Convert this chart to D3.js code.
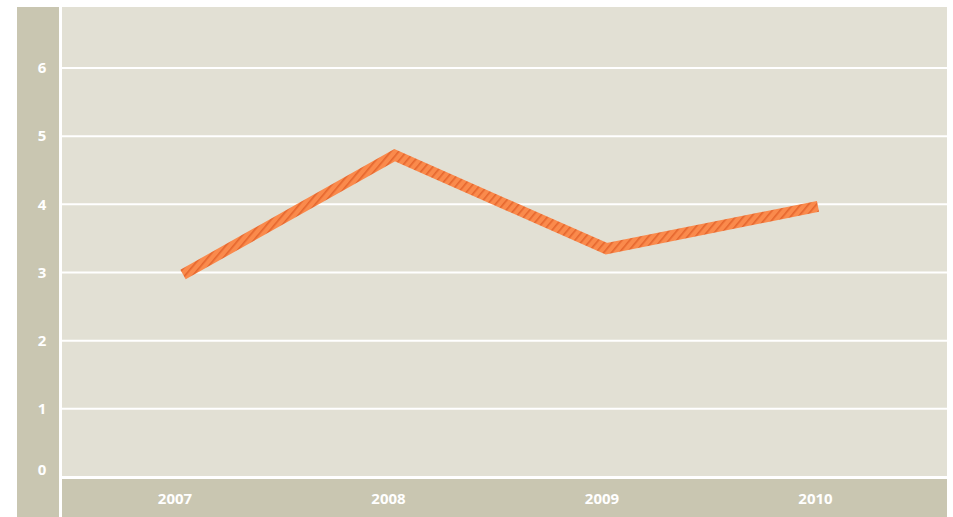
<!DOCTYPE html>
<html>
<head>
<meta charset="utf-8">
<script src="https://cdn.jsdelivr.net/npm/d3@7"></script>
<style>
  html, body { margin: 0; padding: 0; background: #fff; }
</style>
</head>
<body>
<div id="chart"></div>
<script>
// Chart data
const years = ["2007", "2008", "2009", "2010"];
const values = [2.97, 4.72, 3.35, 3.97];
const yTicks = [0, 1, 2, 3, 4, 5, 6];

const width = 953;
const height = 517;

// Layout
const band = { left: 17, right: 59 };   // left label band
const plot = { left: 62, right: 947, top: 7, bottom: 476 };
const xBandTop = 479;                    // bottom label band

const svg = d3
  .select("#chart")
  .append("svg")
  .attr("width", width)
  .attr("height", height)
  .attr("viewBox", [0, 0, width, height]);

// Hatch pattern for the line
const defs = svg.append("defs");
const pat = defs
  .append("pattern")
  .attr("id", "hatch")
  .attr("patternUnits", "userSpaceOnUse")
  .attr("width", 6)
  .attr("height", 6)
  .attr("patternTransform", "rotate(40)");
pat.append("rect").attr("width", 6).attr("height", 6).attr("fill", "#fa8a4c");
pat.append("rect").attr("width", 1.6).attr("height", 6).attr("fill", "#e5662d");

// Scales
const y = d3.scaleLinear().domain([0, 6]).range([477, 68]);
const xLine = d3.scalePoint().domain(years).range([183, 818]);
const xLabel = d3.scalePoint().domain(years).range([175, 815.5]);

// Backgrounds
svg.append("rect")
  .attr("x", band.left).attr("y", plot.top)
  .attr("width", band.right - band.left).attr("height", height - plot.top)
  .attr("fill", "#c9c6b1");

svg.append("rect")
  .attr("x", plot.left).attr("y", plot.top)
  .attr("width", plot.right - plot.left).attr("height", plot.bottom - plot.top)
  .attr("fill", "#e2e0d4");

svg.append("rect")
  .attr("x", plot.left).attr("y", xBandTop)
  .attr("width", plot.right - plot.left).attr("height", height - xBandTop)
  .attr("fill", "#c9c6b1");

// Gridlines
svg.append("g")
  .selectAll("line")
  .data(yTicks.filter((d) => d > 0))
  .join("line")
  .attr("x1", plot.left)
  .attr("x2", plot.right)
  .attr("y1", (d) => y(d))
  .attr("y2", (d) => y(d))
  .attr("stroke", "#fff")
  .attr("stroke-width", 2);

// Y tick labels
svg.append("g")
  .selectAll("text")
  .data(yTicks)
  .join("text")
  .attr("x", 42)
  .attr("y", (d) => Math.min(y(d), 470))
  .attr("dy", "0.35em")
  .attr("text-anchor", "middle")
  .attr("fill", "#fff")
  .attr("font-family", "Open Sans, sans-serif")
  .attr("font-weight", "bold")
  .attr("font-size", "15px")
  .text((d) => d);

// X labels
svg.append("g")
  .selectAll("text")
  .data(years)
  .join("text")
  .attr("x", (d) => xLabel(d))
  .attr("y", 499)
  .attr("dy", "0.35em")
  .attr("text-anchor", "middle")
  .attr("fill", "#fff")
  .attr("font-family", "Open Sans, sans-serif")
  .attr("font-weight", "bold")
  .attr("font-size", "15px")
  .text((d) => d);

// Line
const line = d3
  .line()
  .x((d, i) => xLine(years[i]))
  .y((d) => y(d));

svg.append("path")
  .datum(values)
  .attr("d", line)
  .attr("fill", "none")
  .attr("stroke", "url(#hatch)")
  .attr("stroke-width", 11)
  .attr("stroke-linejoin", "miter")
  .attr("stroke-linecap", "butt");
</script>
</body>
</html>
